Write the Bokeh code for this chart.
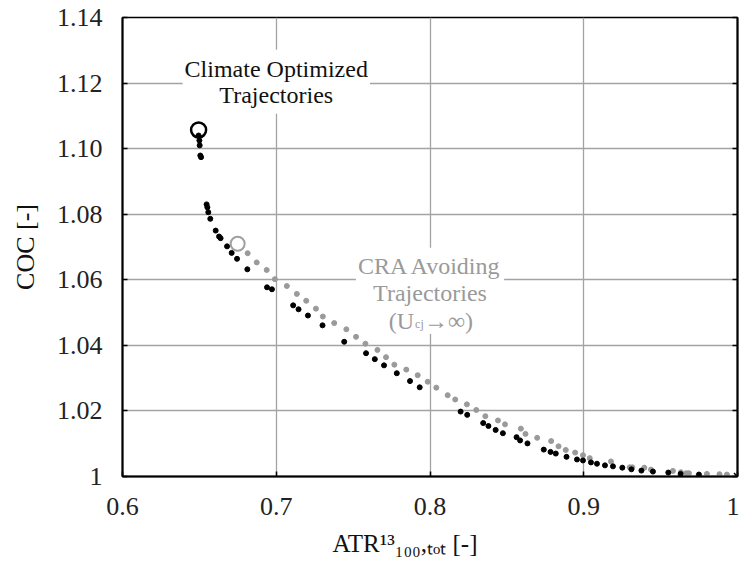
from bokeh.plotting import figure
from bokeh.models import Label, LinearAxis, FixedTicker
from bokeh.embed import file_html
from bokeh.resources import INLINE

# climate optimized trajectories (black dots)
climate_atr = [0.6495, 0.6500, 0.6502, 0.6506, 0.6511, 0.6547, 0.6552, 0.6558, 0.6571,
               0.6606, 0.6628, 0.6638, 0.6680, 0.6710, 0.6745, 0.6812, 0.6940, 0.6972,
               0.7110, 0.7145, 0.7206, 0.7301, 0.7442, 0.7584, 0.7641, 0.7701, 0.7784,
               0.7870, 0.7933, 0.8199, 0.8242, 0.8346, 0.8380, 0.8427, 0.8474, 0.8563,
               0.8586, 0.8634, 0.8740, 0.8784, 0.8818, 0.8888, 0.8956, 0.8995, 0.9047,
               0.9086, 0.9138, 0.9190, 0.9251, 0.9310, 0.9375, 0.9450, 0.9550, 0.9630,
               0.9749]
climate_coc = [1.1040, 1.1025, 1.1010, 1.0979, 1.0974, 1.0830, 1.0821, 1.0806, 1.0786,
               1.0750, 1.0732, 1.0727, 1.0702, 1.0682, 1.0664, 1.0632, 1.0577, 1.0571,
               1.0522, 1.0510, 1.0491, 1.0461, 1.0411, 1.0376, 1.0358, 1.0339, 1.0315,
               1.0291, 1.0272, 1.0198, 1.0188, 1.0163, 1.0154, 1.0142, 1.0132, 1.0120,
               1.0110, 1.0101, 1.0082, 1.0075, 1.0070, 1.0060, 1.0052, 1.0049, 1.0043,
               1.0039, 1.0034, 1.0031, 1.0027, 1.0022, 1.0018, 1.0015, 1.0012, 1.0008,
               1.0006]

# CRA avoiding trajectories (grey dots)
cra_atr = [0.6814, 0.6873, 0.6938, 0.6991, 0.7069, 0.7134, 0.7195, 0.7258, 0.7303,
           0.7377, 0.7456, 0.7519, 0.7580, 0.7658, 0.7714, 0.7768, 0.7846, 0.7920,
           0.7985, 0.8041, 0.8115, 0.8164, 0.8240, 0.8301, 0.8360, 0.8442, 0.8488,
           0.8591, 0.8621, 0.8697, 0.8788, 0.8836, 0.8883, 0.8944, 0.8995, 0.9039,
           0.9177, 0.9299, 0.9316, 0.9394, 0.9437, 0.9580, 0.9632, 0.9667, 0.9684,
           0.9801, 0.9883, 0.9931]
cra_coc = [1.0681, 1.0653, 1.0630, 1.0602, 1.0581, 1.0557, 1.0536, 1.0512, 1.0488,
           1.0468, 1.0449, 1.0426, 1.0405, 1.0386, 1.0364, 1.0341, 1.0326, 1.0309,
           1.0289, 1.0271, 1.0248, 1.0235, 1.0220, 1.0203, 1.0184, 1.0171, 1.0159,
           1.0146, 1.0130, 1.0118, 1.0108, 1.0092, 1.0081, 1.0073, 1.0065, 1.0056,
           1.0046, 1.0028, 1.0028, 1.0027, 1.0021, 1.0017, 1.0013, 1.0010, 1.0010,
           1.0008, 1.0007, 1.0006]

climate_opt_atr = [0.6495]
climate_opt_coc = [1.1057]
cra_opt_atr = [0.6749]
cra_opt_coc = [1.0710]
ref_atr = [1.0]
ref_coc = [1.0]

x_ticks = [0.6, 0.7, 0.8, 0.9, 1.0]
x_tick_labels = ["0.6", "0.7", "0.8", "0.9", "1"]
y_ticks = [1.0, 1.02, 1.04, 1.06, 1.08, 1.1, 1.12, 1.14]
y_tick_labels = ["1", "1.02", "1.04", "1.06", "1.08", "1.10", "1.12", "1.14"]

FONT = "Liberation Serif"
GREY = "#9a9a9a"

p = figure(width=739, height=562, x_range=(0.6, 1.0), y_range=(1.0, 1.14),
           output_backend="svg", toolbar_location=None,
           min_border_left=122, min_border_right=2, min_border_top=17, min_border_bottom=86)

p.outline_line_color = "black"
p.outline_line_width = 1.5

p.xaxis.ticker = FixedTicker(ticks=x_ticks)
p.yaxis.ticker = FixedTicker(ticks=y_ticks)
p.xaxis.major_label_overrides = dict(zip(x_ticks, x_tick_labels))
p.yaxis.major_label_overrides = dict(zip(y_ticks, y_tick_labels))

for ax in (p.xaxis, p.yaxis):
    ax.major_tick_in = 5
    ax.major_tick_out = 0
    ax.minor_tick_in = 0
    ax.minor_tick_out = 0
    ax.axis_line_width = 2
    ax.major_tick_line_width = 1.5
    ax.major_label_text_font = FONT
    ax.major_label_text_font_size = "26px"
    ax.major_label_text_color = "#222222"
    ax.axis_label_text_font = FONT
    ax.axis_label_text_font_size = "25px"
    ax.axis_label_text_font_style = "normal"
    ax.axis_label_text_color = "#111111"

p.xaxis.major_label_standoff = 21
# trailing em spaces push the visible label left, as in the original
p.xaxis.axis_label = "ATR\u00b9\u00b3\u2081\u2080\u2080,\u209c\u2092\u209c [-]\u2003\u2003"
p.xaxis.axis_label_standoff = 12
p.yaxis.major_label_standoff = 20
p.yaxis.axis_label = "COC [-]"
p.yaxis.axis_label_standoff = 14
p.yaxis.axis_label_text_font_size = "26px"

# inward ticks on the right frame edge, no labels
right = LinearAxis(ticker=FixedTicker(ticks=y_ticks),
                   major_label_overrides={t: "" for t in y_ticks},
                   major_label_text_font_size="8px",
                   major_tick_in=5, major_tick_out=0, minor_tick_in=0, minor_tick_out=0,
                   major_label_standoff=0, axis_label_standoff=0,
                   axis_line_width=2, major_tick_line_width=1.5)
p.add_layout(right, "right")

p.grid.grid_line_color = "#a3a3a3"
p.grid.grid_line_width = 1.3

# points
p.scatter(cra_atr, cra_coc, size=5, color=GREY)
p.scatter(climate_atr, climate_coc, size=5, color="black")
p.scatter(cra_opt_atr, cra_opt_coc, size=14, fill_color=None, line_color="#a0a0a0", line_width=2)
p.scatter(climate_opt_atr, climate_opt_coc, size=15, fill_color=None, line_color="black", line_width=2.5)
p.scatter(ref_atr, ref_coc, marker="x", size=10, line_color="black", line_width=1.5)

# annotations
p.add_layout(Label(x=0.7, y=1.1302, text="Climate Optimized\nTrajectories",
                   text_align="center", text_baseline="top", text_font=FONT,
                   text_font_size="24px", text_color="#111111", text_line_height=1.0,
                   background_fill_color="white", padding=(2, 6)))
p.add_layout(Label(x=0.8, y=1.0698, text="CRA Avoiding\nTrajectories",
                   text_align="center", text_baseline="top", text_font=FONT,
                   text_font_size="24px", text_color=GREY, text_line_height=1.05,
                   background_fill_color="white", padding=(2, 5)))
p.add_layout(Label(x=0.7896, y=1.0474, text="(U", text_align="right",
                   text_baseline="alphabetic", text_font=FONT, text_font_size="24px",
                   text_color=GREY, background_fill_color="white"))
p.add_layout(Label(x=0.7903, y=1.0465, text="cj", text_align="left",
                   text_baseline="alphabetic", text_font=FONT, text_font_size="12px",
                   text_color=GREY))
p.add_layout(Label(x=0.7961, y=1.0474, text="\u2192\u221e)", text_align="left",
                   text_baseline="alphabetic", text_font=FONT, text_font_size="24px",
                   text_color=GREY, background_fill_color="white"))

open("out.html", "w").write(file_html(p, INLINE))
